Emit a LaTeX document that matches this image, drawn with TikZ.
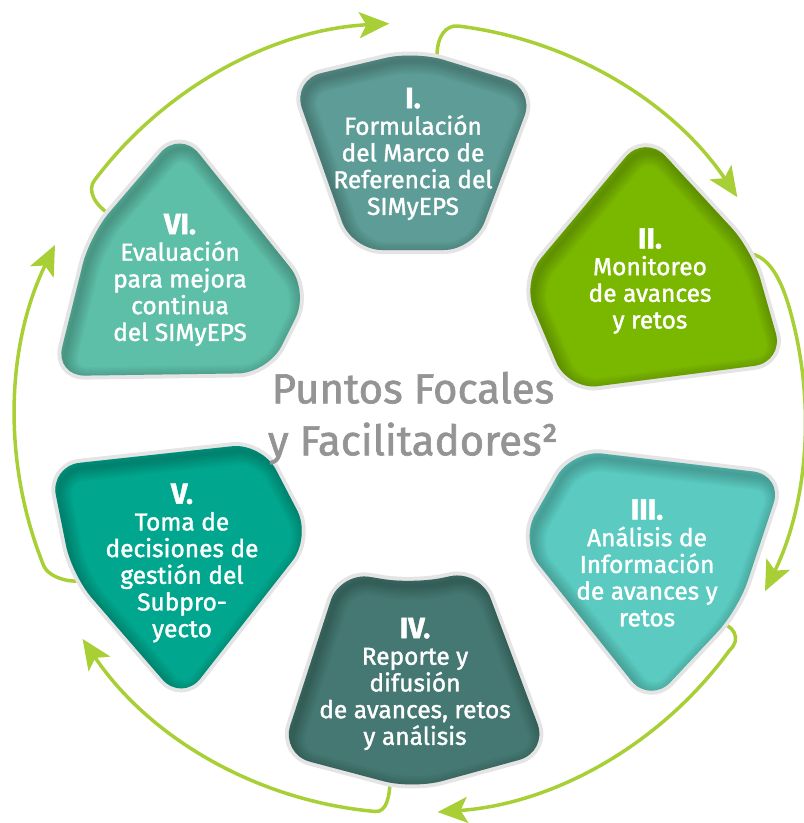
\documentclass[tikz,border=0pt]{standalone}
\usepackage{fontspec}
\setmainfont{Fira Sans}
\newfontfamily\stagefont[FakeBold=1.5]{Fira Sans}
\usetikzlibrary{arrows.meta}

\definecolor{lima}{HTML}{A8CF36}
\definecolor{tealI}{HTML}{5E9D97}
\definecolor{greenII}{HTML}{7AB800}
\definecolor{aquaIII}{HTML}{5BCBC1}
\definecolor{tealIV}{HTML}{457872}
\definecolor{tealV}{HTML}{00A68E}
\definecolor{mintVI}{HTML}{5EBFA8}
\definecolor{rim}{HTML}{E4E4E4}
\definecolor{focal}{HTML}{949494}

\newcommand\romnum[1]{{\fontsize{29}{29}\selectfont\bfseries #1}}
\newcommand\blob[2]{%
  \draw[blobpath, rim, line width=8pt] #2;
  \fill[blobpath, #1] #2;
  \begin{scope}
    \clip[blobpath] #2;
    \foreach \w in {3,6,...,27}
      \draw[blobpath, black, opacity=0.025, line width=\w pt, shift={(3,5)}] #2;
  \end{scope}
}

\begin{document}
\begin{tikzpicture}[x=1pt, y=-1pt,
  blobpath/.style={rounded corners=30pt},
  stagetext/.style={text=white, align=center, inner sep=0pt, font=\stagefont\fontsize{24.5}{26.7}\selectfont},
  flow/.style={draw=lima, line width=3.5pt, -{Stealth[length=30pt,width=26pt,inset=7pt]}}]
\useasboundingbox (0,0) rectangle (804,823);

% where the arrows leave the stages
\coordinate (s1) at (437,56);
\coordinate (s2) at (740,254);
\coordinate (s3) at (716,622);
\coordinate (s4) at (390,778);
\coordinate (s5) at (88,578);
\coordinate (s6) at (112,216);

% cycle arrows, clockwise
\draw[flow] (s1) .. controls (437,36) and (446,25) .. (458,26) arc[start angle=-83, end angle=-34, radius=395];
\draw[flow] (s2) .. controls (770,248) and (784,287) .. (791.5,315.8) arc[start angle=-15, end angle=26, radius=395];
\draw[flow] (s3) .. controls (734,624) and (742,639) .. (729.6,650.2) arc[start angle=36, end angle=86, radius=395];
\draw[flow] (s4) .. controls (390,798) and (386,812) .. (375.6,811.5) arc[start angle=95, end angle=146, radius=395];
\draw[flow] (s5) .. controls (74,586) and (48,577) .. (43.8,566) arc[start angle=158, end angle=206, radius=395];
\draw[flow] (s6) .. controls (94,205) and (87,190) .. (94.5,180.3) arc[start angle=-143, end angle=-93, radius=395];

% stages
\blob{tealI}{(292,80) -- (415,51) -- (535,88) -- (474,250) -- (352,250) -- cycle}
\blob{greenII}{(645,134) -- (752,250) -- (784,362) -- (568,390) -- (522,281) -- cycle}
\blob{aquaIII}{(572,450) -- (783,475) -- (738,610) -- (650,704) -- (520,541) -- cycle}
\blob{tealIV}{(340,572) -- (413,584) -- (480,570) -- (548,752) -- (413,789) -- (281,754) -- cycle}
\blob{tealV}{(50,466) -- (262,443) -- (311,537) -- (182,702) -- (72,575) -- cycle}
\blob{mintVI}{(180,130) -- (309,291) -- (268,373) -- (55,376) -- (90,235) -- cycle}

\node[stagetext] (I) at (413,154) {\romnum{I.}\\Formulación\\del Marco de\\Referencia del\\SIMyEPS};
\node[stagetext] (II) at (650,281) {\romnum{II.}\\Monitoreo\\de avances\\y retos};
\node[stagetext] (III) at (647,563) {\romnum{III.}\\Análisis de\\Información\\de avances y\\retos};
\node[stagetext] (IV) at (415,684) {\romnum{IV.}\\Reporte y\\difusión\\de avances, retos\\y análisis};
\node[stagetext] (V) at (182,563) {\romnum{V.}\\Toma de\\decisiones de\\gestión del\\Subpro-\\yecto};
\node[stagetext] (VI) at (180,280) {\romnum{VI.}\\Evaluación\\para mejora\\continua\\del SIMyEPS};

\node[text=focal, align=center, font=\stagefont\fontsize{42}{52}\selectfont] (focal) at (413,418) {Puntos Focales\\y Facilitadores²};
\end{tikzpicture}
\end{document}
